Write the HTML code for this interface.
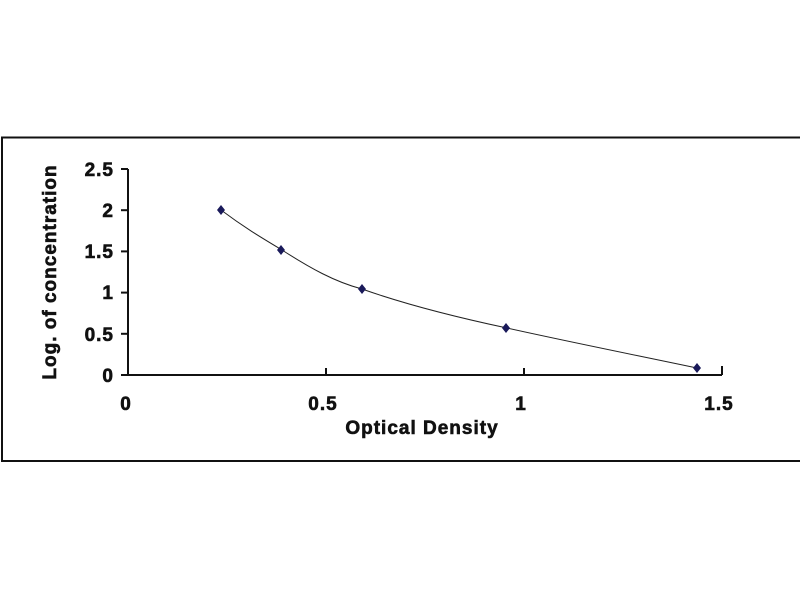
<!DOCTYPE html>
<html><head><style>
body{margin:0;background:#fff;}
svg{display:block}
text{font-family:"Liberation Sans",Arial,sans-serif;font-weight:bold;fill:#111;stroke:#111;stroke-width:0.6;letter-spacing:1px;}
</style></head><body>
<svg width="800" height="600" viewBox="0 0 800 600">
<rect x="2" y="137.5" width="805" height="323.5" fill="none" stroke="#111" stroke-width="2"/>
<g stroke="#111" stroke-width="2" fill="none">
<line x1="128" y1="169" x2="128" y2="375"/>
<line x1="127" y1="375" x2="722" y2="375"/>
<line x1="121" y1="169" x2="128" y2="169"/>
<line x1="121" y1="210.2" x2="128" y2="210.2"/>
<line x1="121" y1="251.4" x2="128" y2="251.4"/>
<line x1="121" y1="292.6" x2="128" y2="292.6"/>
<line x1="121" y1="333.8" x2="128" y2="333.8"/>
<line x1="121" y1="375" x2="128" y2="375"/>
<line x1="326" y1="368" x2="326" y2="375"/>
<line x1="524" y1="368" x2="524" y2="375"/>
<line x1="722" y1="366" x2="722" y2="375"/>
</g>
<g font-size="19" text-anchor="end">
<text x="114" y="176">2.5</text>
<text x="114" y="217">2</text>
<text x="114" y="258">1.5</text>
<text x="114" y="299">1</text>
<text x="114" y="341">0.5</text>
<text x="114" y="382">0</text>
</g>
<g font-size="19" text-anchor="middle">
<text x="126" y="410">0</text>
<text x="323" y="410">0.5</text>
<text x="521" y="410">1</text>
<text x="719" y="410">1.5</text>
</g>
<text x="422" y="434" font-size="19" text-anchor="middle">Optical Density</text>
<text transform="translate(56,272) rotate(-90)" font-size="19" text-anchor="middle">Log. of concentration</text>
<path d="M221,210 C245,228 262,238 282,250 C310,268 335,282 362,289 C410,306 460,318 507,328 C570,342 640,356 697,368" fill="none" stroke="#222" stroke-width="1"/>
<g fill="#1a1a5a">
<path d="M221,205 L225,210 L221,215 L217,210Z"/>
<path d="M281,245 L285,250 L281,255 L277,250Z"/>
<path d="M362,284 L366,289 L362,294 L358,289Z"/>
<path d="M506,323 L510,328 L506,333 L502,328Z"/>
<path d="M697,363 L701,368 L697,373 L693,368Z"/>
</g>
</svg>
</body></html>
